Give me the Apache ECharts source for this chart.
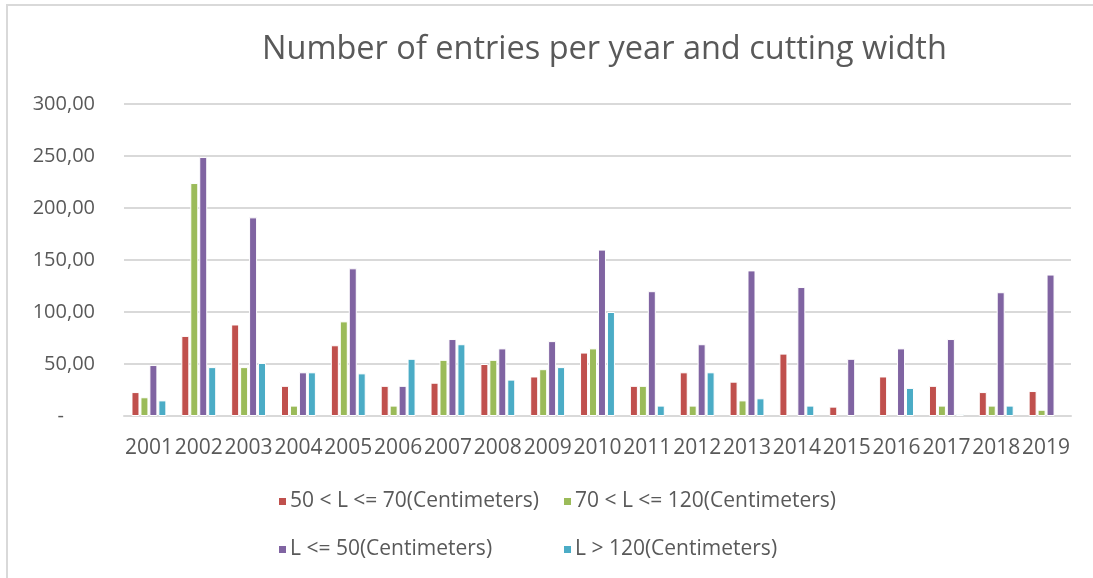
<!DOCTYPE html>
<html>
<head>
<meta charset="utf-8">
<script src="https://cdn.jsdelivr.net/npm/echarts@6/dist/echarts.min.js"></script>
<style>
html,body{margin:0;padding:0;background:#fff;}
#chart{width:1093px;height:578px;}
</style>
</head>
<body>
<div id="chart"></div>
<script>
const years = ['2001','2002','2003','2004','2005','2006','2007','2008','2009','2010','2011','2012','2013','2014','2015','2016','2017','2018','2019'];
const seriesNames = ['50 < L <= 70(Centimeters)','70 < L <= 120(Centimeters)','L <= 50(Centimeters)','L > 120(Centimeters)'];
const s50to70   = [23, 77, 88, 29, 68, 29, 32, 50, 38, 61, 29, 42, 33, 60, 9, 38, 29, 23, 24];
const s70to120  = [18, 224, 47, 10, 91, 10, 54, 54, 45, 65, 29, 10, 15, null, null, null, 10, 10, 6];
const sUpTo50   = [49, 249, 191, 42, 142, 29, 74, 65, 72, 160, 120, 69, 140, 124, 55, 65, 74, 119, 136];
const sOver120  = [15, 47, 51, 42, 41, 55, 69, 35, 47, 100, 10, 42, 17, 10, null, 27, 2, 10, null];
const colors = ['#c0504d','#9bbb59','#8064a2','#4bacc6'];
const yTicks = {min: 0, max: 300, interval: 50};

const chart = echarts.init(document.getElementById('chart'), null, {renderer: 'canvas'});
const font = 'Open Sans';
const txt = '#595959';
const allData = [s50to70, s70to120, sUpTo50, sOver120];

const legendPos = [[277, 491], [562, 491], [277, 539], [562, 539]];

chart.setOption({
  animation: false,
  color: colors,
  title: {
    text: 'Number of entries per year and cutting width',
    left: 262,
    top: 33,
    padding: 0,
    textStyle: {fontFamily: font, fontSize: 32.5, fontWeight: 'normal', color: txt}
  },
  graphic: [
    {type: 'line', shape: {x1: 7, y1: 5, x2: 7, y2: 578}, style: {stroke: '#d9d9d9', lineWidth: 2}, silent: true},
    {type: 'line', shape: {x1: 6, y1: 5, x2: 1093, y2: 5}, style: {stroke: '#d9d9d9', lineWidth: 2}, silent: true}
  ],
  legend: seriesNames.map((n, i) => ({
    data: [n],
    left: legendPos[i][0],
    top: legendPos[i][1],
    padding: 0,
    icon: 'rect',
    itemWidth: 9,
    itemHeight: 9,
    itemGap: 3,
    textStyle: {fontFamily: font, fontSize: 21, color: txt, padding: [0, 0, 0, -2]}
  })),
  grid: {left: 124, right: 22, top: 104, bottom: 162, containLabel: false},
  xAxis: {
    type: 'category',
    data: years,
    axisLine: {lineStyle: {color: '#d9d9d9', width: 2}},
    axisTick: {show: false},
    axisLabel: {interval: 0, fontFamily: font, fontSize: 21, color: txt, margin: 22}
  },
  yAxis: {
    type: 'value',
    min: yTicks.min,
    max: yTicks.max,
    interval: yTicks.interval,
    axisLine: {show: false},
    axisTick: {show: false},
    splitLine: {lineStyle: {color: '#d9d9d9', width: 2}},
    axisLabel: {
      fontFamily: font, fontSize: 20, color: txt, margin: 29,
      formatter: v => v === 0 ? '-      ' : v.toFixed(2).replace('.', ',')
    }
  },
  series: seriesNames.map((n, i) => ({
    name: n,
    type: 'bar',
    data: allData[i],
    barWidth: 8,
    barGap: '12%',
    itemStyle: {color: colors[i], borderColor: '#ffffff', borderWidth: 1}
  }))
});
</script>
</body>
</html>
